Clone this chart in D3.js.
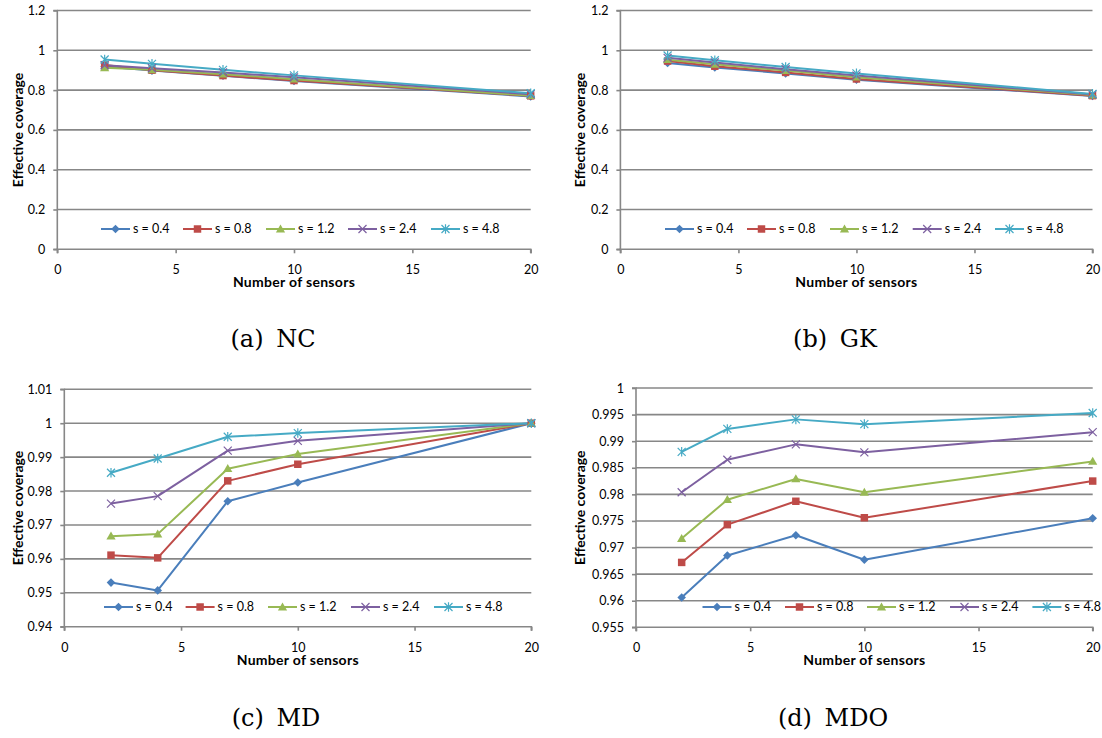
<!DOCTYPE html>
<html><head><meta charset="utf-8">
<script src="https://cdn.jsdelivr.net/npm/d3@7"></script>
<style>body{margin:0;background:#fff}svg{display:block}</style>
</head><body>
<svg id="chart" width="1102" height="738"></svg>
<script>
// ---- data ----
const sensors = [2, 4, 7, 10, 20];
const seriesLabels = ["s = 0.4", "s = 0.8", "s = 1.2", "s = 2.4", "s = 4.8"];
const xTicks = [0, 5, 10, 15, 20];
const yTicksTop = [0, 0.2, 0.4, 0.6, 0.8, 1, 1.2];
const yTicksMD = [0.94, 0.95, 0.96, 0.97, 0.98, 0.99, 1, 1.01];
const yTicksMDO = [0.955, 0.96, 0.965, 0.97, 0.975, 0.98, 0.985, 0.99, 0.995, 1];

const ncS04 = [0.918, 0.898, 0.872, 0.846, 0.768];
const ncS08 = [0.926, 0.900, 0.873, 0.848, 0.771];
const ncS12 = [0.912, 0.902, 0.880, 0.855, 0.772];
const ncS24 = [0.925, 0.910, 0.889, 0.864, 0.779];
const ncS48 = [0.954, 0.932, 0.902, 0.874, 0.784];

const gkS04 = [0.936, 0.914, 0.884, 0.852, 0.770];
const gkS08 = [0.946, 0.920, 0.889, 0.856, 0.772];
const gkS12 = [0.953, 0.930, 0.898, 0.865, 0.775];
const gkS24 = [0.962, 0.939, 0.905, 0.873, 0.778];
const gkS48 = [0.974, 0.950, 0.916, 0.884, 0.781];

const mdS04 = [0.9530, 0.9507, 0.9770, 0.9825, 1.0];
const mdS08 = [0.9611, 0.9603, 0.9830, 0.9879, 1.0];
const mdS12 = [0.9667, 0.9673, 0.9866, 0.9909, 1.0];
const mdS24 = [0.9763, 0.9785, 0.9919, 0.9948, 1.0];
const mdS48 = [0.9854, 0.9896, 0.9960, 0.9971, 1.0];

const mdoS04 = [0.9606, 0.9685, 0.9723, 0.9677, 0.9755];
const mdoS08 = [0.9672, 0.9743, 0.9787, 0.9756, 0.9825];
const mdoS12 = [0.9717, 0.9790, 0.9829, 0.9804, 0.9862];
const mdoS24 = [0.9804, 0.9865, 0.9894, 0.9879, 0.9917];
const mdoS48 = [0.9880, 0.9923, 0.9941, 0.9932, 0.9953];

// ---- style ----
const colors = ["#4a7ebb", "#be4b48", "#98b954", "#7d60a0", "#46aac5"];
const markerTypes = ["diamond", "square", "triangle", "x", "star"];
const gridColor = "#878787";
const chartFont = "Lato, 'Open Sans', sans-serif";

const panels = [
  { series: [ncS04, ncS08, ncS12, ncS24, ncS48], yTicks: yTicksTop, yDomain: [0, 1.2],
    box: [57.3, 530.7, 10.5, 249.3], legendX: [101, 183, 266, 348, 431], legendY: 229,
    yTitleX: 17.5, caption: "(a) NC", capX: 273, capY: 347 },
  { series: [gkS04, gkS08, gkS12, gkS24, gkS48], yTicks: yTicksTop, yDomain: [0, 1.2],
    box: [620.4, 1092.5, 10.5, 249.3], legendX: [665, 747, 830, 912.7, 995], legendY: 229,
    yTitleX: 579.5, caption: "(b) GK", capX: 835, capY: 347 },
  { series: [mdS04, mdS08, mdS12, mdS24, mdS48], yTicks: yTicksMD, yDomain: [0.94, 1.01],
    box: [64.3, 531.3, 389.3, 626.7], legendX: [104, 185.6, 268, 351, 434], legendY: 607,
    yTitleX: 17.5, caption: "(c) MD", capX: 276, capY: 726 },
  { series: [mdoS04, mdoS08, mdoS12, mdoS24, mdoS48], yTicks: yTicksMDO, yDomain: [0.955, 1],
    box: [636, 1092.7, 388, 627.3], legendX: [702.5, 785, 867, 950, 1032.4], legendY: 607,
    yTitleX: 579.5, caption: "(d) MDO", capX: 833, capY: 726 }
];

const svg = d3.select("#chart");

function drawMarker(g, type, x, y, color) {
  const t = `translate(${x},${y})`;
  if (type === "diamond") {
    const r = 4.3;
    g.append("path").attr("d", `M0,${-r}L${r},0L0,${r}L${-r},0Z`).attr("transform", t).attr("fill", color);
  } else if (type === "square") {
    g.append("path").attr("d", d3.symbol(d3.symbolSquare, 56)()).attr("transform", t).attr("fill", color);
  } else if (type === "triangle") {
    g.append("path").attr("d", "M0,-4.6L4.6,3.4L-4.6,3.4Z").attr("transform", t).attr("fill", color);
  } else if (type === "x") {
    const r = 4;
    g.append("path").attr("d", `M${-r},${-r}L${r},${r}M${-r},${r}L${r},${-r}`)
      .attr("transform", t).attr("stroke", color).attr("stroke-width", 1.2).attr("fill", "none");
  } else if (type === "star") {
    const r = 4;
    g.append("path").attr("d", `M${-r},${-r}L${r},${r}M${-r},${r}L${r},${-r}M0,${-r - 0.8}L0,${r + 0.8}`)
      .attr("transform", t).attr("stroke", color).attr("stroke-width", 1.2).attr("fill", "none");
  }
}

const fmt = v => String(+v.toFixed(3));

panels.forEach(p => {
  const [x0, x1, yT, yB] = p.box;
  const x = d3.scaleLinear().domain([0, 20]).range([x0, x1]);
  const y = d3.scaleLinear().domain(p.yDomain).range([yB, yT]);
  const g = svg.append("g");

  // gridlines
  g.append("g").selectAll("line").data(p.yTicks.slice(1)).join("line")
    .attr("x1", x0).attr("x2", x1).attr("y1", d => y(d)).attr("y2", d => y(d))
    .attr("stroke", gridColor).attr("stroke-width", 1.6);

  // y axis
  const yAxis = d3.axisLeft(y).tickValues(p.yTicks).tickFormat(fmt).tickSize(4).tickPadding(8);
  const ya = g.append("g").attr("transform", `translate(${x0},0)`).call(yAxis);
  // x axis
  const xAxis = d3.axisBottom(x).tickValues(xTicks).tickFormat(d3.format("d")).tickSize(4).tickPadding(12);
  const xa = g.append("g").attr("transform", `translate(0,${yB})`).call(xAxis);
  [ya, xa].forEach(a => {
    a.select(".domain").attr("stroke", gridColor).attr("stroke-width", 1.6);
    a.selectAll(".tick line").attr("stroke", gridColor).attr("stroke-width", 1.6);
    a.selectAll("text").attr("font-family", chartFont).attr("font-size", 12.5).attr("fill", "#000");
  });
  ya.select(".domain").attr("d", `M-4,${yB}H0V${yT}H-4`);
  xa.select(".domain").attr("d", `M${x0},4V0H${x1}V4`);

  // axis titles
  g.append("text").attr("x", (x0 + x1) / 2).attr("y", yB + 38)
    .attr("text-anchor", "middle").attr("font-family", chartFont).attr("font-weight", "bold")
    .attr("font-size", 14).style("letter-spacing", "0.3px").text("Number of sensors");
  g.append("text").attr("transform", `translate(${p.yTitleX + 5},${(yT + yB) / 2}) rotate(-90)`)
    .attr("text-anchor", "middle").attr("font-family", chartFont).attr("font-weight", "bold")
    .attr("font-size", 14).text("Effective coverage");

  // series lines
  const line = d3.line().x((d, i) => x(sensors[i])).y(d => y(d));
  p.series.forEach((vals, si) => {
    g.append("path").datum(vals).attr("d", line).attr("fill", "none")
      .attr("stroke", colors[si]).attr("stroke-width", 2).attr("stroke-linejoin", "round");
  });
  p.series.forEach((vals, si) => {
    vals.forEach((v, i) => drawMarker(g, markerTypes[si], x(sensors[i]), y(v), colors[si]));
  });

  // legend
  seriesLabels.forEach((lab, si) => {
    const lx = p.legendX[si], ly = p.legendY;
    g.append("line").attr("x1", lx).attr("x2", lx + 29).attr("y1", ly).attr("y2", ly)
      .attr("stroke", colors[si]).attr("stroke-width", 2);
    drawMarker(g, markerTypes[si], lx + 14.5, ly, colors[si]);
    g.append("text").attr("x", lx + 32).attr("y", ly).attr("dy", "0.35em")
      .attr("font-family", chartFont).attr("font-size", 12.5).text(lab);
  });

  // caption
  svg.append("text").attr("x", p.capX).attr("y", p.capY).attr("text-anchor", "middle")
    .attr("font-family", "'DejaVu Serif', serif").attr("font-size", 24)
    .style("word-spacing", "5px").text(p.caption);
});
</script>
</body></html>
